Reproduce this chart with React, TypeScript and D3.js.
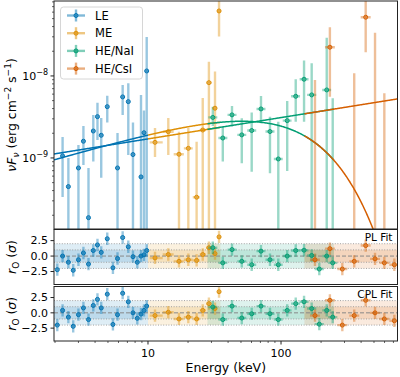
import React from 'react';
import * as d3 from 'd3';

// ---------- data ----------
const COLORS = { LE: '#0173B2', ME: '#DE8F05', NaI: '#029E73', CsI: '#D55E00' };

// LE
const leE = [2.08, 2.28, 2.52, 2.74, 3.0, 3.27, 3.57, 3.88, 4.17, 4.45, 4.94, 5.45, 5.9, 6.45, 7.11, 7.71, 8.31, 8.86, 9.33, 9.78];
const leElo = [2.01, 2.2, 2.43, 2.64, 2.9, 3.16, 3.45, 3.74, 4.02, 4.29, 4.77, 5.26, 5.69, 6.22, 6.86, 7.44, 8.02, 8.55, 9.0, 9.44];
const leEhi = [2.15, 2.36, 2.61, 2.84, 3.1, 3.38, 3.69, 4.02, 4.32, 4.61, 5.11, 5.64, 6.11, 6.68, 7.36, 7.98, 8.6, 9.17, 9.66, 10.0];
const leF = [null, 1.06e-9, 4.47e-10, null, 7.55e-10, 1.6e-9, 1.87e-10, 2.13e-9, 3.19e-9, 1.89e-9, 4.22e-9, null, 7.55e-10, 5.55e-9, 4.86e-9, 1.1e-9, null, 5.87e-10, 2.03e-9, 1.15e-8];
const leFlo = [null, 3.35e-10, 1e-11, null, 1e-11, 8.22e-10, 1e-11, 9.02e-10, 1.66e-9, 5.75e-10, 2.7e-9, null, 1e-11, 3.35e-9, 1.09e-9, 1e-11, null, 1e-11, 1e-11, 1e-11];
const leFhi = [null, 1.8e-9, 1.0e-9, null, 1.44e-9, 2.46e-9, 7.55e-10, 3.35e-9, 4.72e-9, 3.08e-9, 5.75e-9, null, 2.02e-9, 7.76e-9, 8.15e-9, 2.7e-9, null, 5.87e-9, 3.8e-9, 2.99e-8];
const leRPL = [-2.2, 0.0, -1.0, -2.3, -0.6, 0.5, -1.3, 0.9, 1.8, 0.6, 2.8, -1.9, -0.4, 3.0, 1.5, -0.1, -1.0, 0.0, 0.2, 0.9];
const leRCPL = [-2.0, 0.4, -0.7, -2.2, -0.3, 0.8, -1.1, 1.2, 2.2, 0.8, 3.05, -1.9, -0.3, 3.2, 1.8, 0.0, -0.9, -0.2, 0.4, 1.1];

// ME
const meE = [11.29, 14.21, 17.1, 20.1, 23.2, 25.8, 28.7, 31.9, 34.2];
const meElo = [10.3, 12.9, 15.6, 18.6, 21.7, 24.5, 27.3, 30.3, 33.0];
const meEhi = [12.9, 15.6, 18.6, 21.7, 24.5, 27.3, 30.3, 33.0, 35.5];
const meF = [1.55e-9, 2.09e-9, 1.11e-9, 1.31e-9, 3.32e-10, 2.19e-9, 8.28e-9, 4.04e-9, 6.2e-8];
const meFlo = [1.03e-9, 1.09e-9, 1e-11, 1e-11, 1e-11, 1e-11, 1e-11, 1e-11, 3.03e-8];
const meFhi = [2.32e-9, 3.08e-9, 2.09e-9, 2.32e-9, 1.58e-9, 5.39e-9, 1.49e-8, 1.13e-8, 1e-6];
const meRPL = [-0.3, 0.25, -0.85, -0.6, -0.7, 0.25, 1.35, 0.4, 3.1];
const meRCPL = [-0.45, 0.1, -1.0, -0.7, -1.0, 0.4, 1.5, 0.7, 3.45];

// HE/NaI
const naiE = [30.7, 36.5, 42.8, 50.7, 60.2, 70.7, 82.6, 95.4, 111.3, 129, 149, 170, 194, 220.6, 244.7];
const naiElo = [28.4, 33.8, 39.6, 46.9, 55.7, 65.4, 76.4, 88.3, 103, 119, 138, 157, 179, 204, 226];
const naiEhi = [33.2, 39.5, 46.3, 54.8, 65.1, 76.4, 89.3, 103, 120, 139, 161, 184, 210, 238, 265];
const naiF = [3.12e-9, 1.75e-9, 3.35e-9, 1.91e-9, 2.16e-9, 3.96e-9, 2.1e-9, 9.72e-10, 2.85e-9, 5.65e-9, 9.12e-9, 5.87e-9, null, 6.75e-9, null];
const naiFlo = [2.46e-9, 9.02e-10, 2.41e-9, 8.62e-10, 6.81e-10, 2.65e-9, 6.5e-10, 1e-11, 6.94e-10, 2.77e-9, 2.77e-9, 1e-11, null, 1e-11, 1e-11];
const naiFhi = [4.22e-9, 2.41e-9, 4.31e-9, 3.05e-9, 3.57e-9, 5.7e-9, 3.19e-9, 2.77e-9, 4.95e-9, 9.12e-9, 1.54e-8, 1.43e-8, null, 2.93e-8, 5.35e-9];
const naiRPL = [1.35, -1.1, 1.05, -0.85, -1.4, 0.8, -0.6, -1.4, 0.0, 0.9, 0.95, 0.1, -2.1, 0.0, -1.1];
const naiRCPL = [0.95, -1.1, 1.1, -0.85, -0.15, 1.1, -0.15, -1.1, 0.4, 1.5, 1.8, 0.7, -1.85, 0.4, -0.7];

// HE/CsI
const csiE = [180, 233, 289, 355, 433, 509, 598, 711];
const csiElo = [165, 214, 265, 326, 397, 467, 549, 652];
const csiEhi = [196, 254, 315, 387, 472, 555, 652, 775];
const csiF = [null, 2.24e-8, null, null, 5.2e-8, null, null, null];
const csiFlo = [1e-11, 5.59e-9, null, 1e-11, 1.95e-8, 1e-11, 1e-11, null];
const csiFhi = [8.94e-9, 3.93e-8, null, 1.08e-8, 1e-6, 3.37e-8, 6.15e-9, null];
const csiRPL = [-0.6, 1.2, -2.1, -0.85, 1.7, -0.45, -1.1, -1.4];
const csiRCPL = [-0.45, 2.05, -2.0, -0.45, 2.05, 0.0, -1.0, -1.3];

// instrument energy ranges (keV) for model segments & residual bands
const rangeLE = [1.965, 10];
const rangeME = [10, 35];
const rangeNaI = [28, 250];
const rangeCsI = [150, 760];

// fitted model parameters
const PL_NORM = 1.119e-9, PL_E0 = 1.97, PL_SLOPE = 0.26;
const CPL_A = 7.006e-10, CPL_BETA = 0.473, CPL_EC = 107.6;

const X_TICKS_MAJOR = [10, 100];
const Y_TICKS_MAJOR = [1e-9, 1e-8];
const R_TICKS = [2.5, 0, -2.5];

// ---------- layout ----------
const W = 400, H = 377;
const PX0 = 54, PX1 = 397.5;
const MAIN = [1, 229];
const RES1 = [229.5, 284.5];
const RES2 = [286.5, 341];
const FONT = 'DejaVu Sans';

const series = [
  { key: 'LE', label: 'LE', color: COLORS.LE, E: leE, Elo: leElo, Ehi: leEhi, F: leF, Flo: leFlo, Fhi: leFhi, rPL: leRPL, rCPL: leRCPL, range: rangeLE },
  { key: 'ME', label: 'ME', color: COLORS.ME, E: meE, Elo: meElo, Ehi: meEhi, F: meF, Flo: meFlo, Fhi: meFhi, rPL: meRPL, rCPL: meRCPL, range: rangeME },
  { key: 'NaI', label: 'HE/NaI', color: COLORS.NaI, E: naiE, Elo: naiElo, Ehi: naiEhi, F: naiF, Flo: naiFlo, Fhi: naiFhi, rPL: naiRPL, rCPL: naiRCPL, range: rangeNaI },
  { key: 'CsI', label: 'HE/CsI', color: COLORS.CsI, E: csiE, Elo: csiElo, Ehi: csiEhi, F: csiF, Flo: csiFlo, Fhi: csiFhi, rPL: csiRPL, rCPL: csiRCPL, range: rangeCsI },
];

const plModel = (e: number) => PL_NORM * Math.pow(e / PL_E0, PL_SLOPE);
const cplModel = (e: number) => CPL_A * Math.pow(e, CPL_BETA) * Math.exp(-e / CPL_EC);

function logSamples(a: number, b: number, n: number) {
  const la = Math.log10(a), lb = Math.log10(b);
  return d3.range(n + 1).map((i) => Math.pow(10, la + ((lb - la) * i) / n));
}

const EB_OP = 0.4;
const EB_W = 2.4;

export default function App() {
  const x = d3.scaleLog().domain([1.965, 751]).range([PX0, PX1]);
  const y = d3.scaleLog().domain([1.36e-10, 8.2e-8]).range([MAIN[1], MAIN[0]]);
  const r1 = d3.scaleLinear().domain([-4.6, 4.3]).range([RES1[1], RES1[0]]);
  const r2 = d3.scaleLinear().domain([-4.6, 4.3]).range([RES2[1], RES2[0]]);

  const line = d3.line<number>().x((e) => x(e)).y((e) => y(Math.max(e, 1e-20)));

  const modelPath = (f: (e: number) => number, range: number[]) => {
    const pts = logSamples(range[0], range[1], 200).map((e) => [x(e), y(Math.max(f(e), 1e-14))]);
    return d3.line()(pts as [number, number][]) || '';
  };

  const clampY = (v: number) => y(Math.max(v, 1e-12));

  const minorX: number[] = [];
  [1, 10, 100].forEach((d) => {
    for (let k = 2; k <= 9; k++) {
      const v = d * k;
      if (v > 1.965 && v < 751) minorX.push(v);
    }
  });
  const minorY: number[] = [];
  [1e-10, 1e-9, 1e-8].forEach((d) => {
    for (let k = 2; k <= 9; k++) {
      const v = d * k;
      if (v > 1.36e-10 && v < 8.2e-8) minorY.push(v);
    }
  });

  const resPanel = (rs: any, key: 'rPL' | 'rCPL', top: number, bottom: number, label: string, clip: string) => (
    <g>
      <clipPath id={clip}>
        <rect x={PX0} y={top} width={PX1 - PX0} height={bottom - top} />
      </clipPath>
      <g clipPath={`url(#${clip})`}>
        {series.map((s) => (
          <g key={'band' + s.key}>
            <rect x={x(s.range[0])} width={x(Math.min(s.range[1], 751)) - x(s.range[0])} y={rs(2)} height={rs(-2) - rs(2)} fill={s.color} fillOpacity={0.13} />
            <rect x={x(s.range[0])} width={x(Math.min(s.range[1], 751)) - x(s.range[0])} y={rs(1)} height={rs(-1) - rs(1)} fill={s.color} fillOpacity={0.15} />
          </g>
        ))}
        {[2, 1, -1, -2].map((v) => (
          <line key={v} x1={PX0} x2={PX1} y1={rs(v)} y2={rs(v)} stroke="#999" strokeWidth={0.9} strokeDasharray="1,1.6" />
        ))}
        <line x1={PX0} x2={PX1} y1={rs(0)} y2={rs(0)} stroke="#888" strokeWidth={1} strokeDasharray="4,2" />
        {series.map((s) => (
          <g key={'res' + s.key}>
            {s.E.map((e: number, i: number) => {
              const v = s[key][i];
              return (
                <g key={i}>
                  <line x1={x(e)} x2={x(e)} y1={rs(v - 1)} y2={rs(v + 1)} stroke={s.color} strokeOpacity={EB_OP} strokeWidth={EB_W} />
                  <line x1={x(s.Elo[i])} x2={x(s.Ehi[i])} y1={rs(v)} y2={rs(v)} stroke={s.color} strokeOpacity={EB_OP} strokeWidth={EB_W} />
                  <circle cx={x(e)} cy={rs(v)} r={2} fill={s.color} fillOpacity={0.35} stroke={s.color} strokeWidth={1} />
                </g>
              );
            })}
          </g>
        ))}
      </g>
      <rect x={PX0} y={top} width={PX1 - PX0} height={bottom - top} fill="none" stroke="#222" strokeWidth={1} />
      {R_TICKS.map((t) => (
        <g key={t}>
          <line x1={PX0 - 3.5} x2={PX0} y1={rs(t)} y2={rs(t)} stroke="#222" />
          <text x={PX0 - 6} y={rs(t)} dy="0.35em" textAnchor="end" fontSize={11}>
            {t === 0 ? '0.0' : t > 0 ? t.toFixed(1) : '\u2212' + Math.abs(t).toFixed(1)}
          </text>
        </g>
      ))}
      <text x={PX1 - 5} y={top + 11} textAnchor="end" fontSize={10.5}>{label}</text>
      <text transform={`translate(16,${(top + bottom) / 2}) rotate(-90)`} textAnchor="middle" fontSize={12.5}>
        <tspan fontStyle="italic">r</tspan>
        <tspan fontSize={9} dy={3}>O</tspan>
        <tspan dy={-3}> (</tspan>
        <tspan fontStyle="italic">σ</tspan>
        <tspan>)</tspan>
      </text>
    </g>
  );

  return (
    <svg width={W} height={H} style={{ position: 'absolute', left: 0, top: 0, background: '#fff' }} fontFamily={FONT}>
      <rect width={W} height={H} fill="#fff" />
      <clipPath id="mainclip">
        <rect x={PX0} y={MAIN[0]} width={PX1 - PX0} height={MAIN[1] - MAIN[0]} />
      </clipPath>
      <g clipPath="url(#mainclip)">
        {/* error bars */}
        {series.map((s) => (
          <g key={'eb' + s.key}>
            {s.E.map((e: number, i: number) => {
              const f = s.F[i];
              const hi = s.Fhi[i];
              const lo = s.Flo[i];
              return (
                <g key={i}>
                  {hi != null && (
                    <line x1={x(e)} x2={x(e)} y1={clampY(lo == null ? 1e-12 : lo)} y2={clampY(hi)} stroke={s.color} strokeOpacity={EB_OP} strokeWidth={EB_W} />
                  )}
                  {f != null && (
                    <line x1={x(s.Elo[i])} x2={x(s.Ehi[i])} y1={y(f)} y2={y(f)} stroke={s.color} strokeOpacity={EB_OP} strokeWidth={EB_W} />
                  )}
                </g>
              );
            })}
          </g>
        ))}
        {/* models */}
        {series.map((s) => (
          <path key={'pl' + s.key} d={modelPath(plModel, s.range)} fill="none" stroke={s.color} strokeWidth={1.5} />
        ))}
        {series.map((s) => (
          <path key={'cpl' + s.key} d={modelPath(cplModel, s.range)} fill="none" stroke={s.color} strokeWidth={1.5} />
        ))}
        {/* markers */}
        {series.map((s) => (
          <g key={'mk' + s.key}>
            {s.E.map((e: number, i: number) =>
              s.F[i] != null ? (
                <circle key={i} cx={x(e)} cy={y(s.F[i] as number)} r={2} fill={s.color} fillOpacity={0.35} stroke={s.color} strokeWidth={1} />
              ) : null
            )}
          </g>
        ))}
      </g>
      <rect x={PX0} y={MAIN[0]} width={PX1 - PX0} height={MAIN[1] - MAIN[0]} fill="none" stroke="#222" strokeWidth={1} />
      {/* main y ticks */}
      {minorY.map((v) => (
        <line key={v} x1={PX0 - 2} x2={PX0} y1={y(v)} y2={y(v)} stroke="#222" strokeWidth={0.7} />
      ))}
      {Y_TICKS_MAJOR.map((v) => (
        <g key={v}>
          <line x1={PX0 - 3.5} x2={PX0} y1={y(v)} y2={y(v)} stroke="#222" />
          <text x={PX0 - 6} y={y(v) + 4} textAnchor="end" fontSize={11}>
            10<tspan fontSize={8} dy={-5}>{'\u2212' + Math.round(-Math.log10(v))}</tspan>
          </text>
        </g>
      ))}
      {/* main y label */}
      <text transform={`translate(16,${(MAIN[0] + MAIN[1]) / 2}) rotate(-90)`} textAnchor="middle" fontSize={12.5}>
        <tspan fontStyle="italic">νF</tspan>
        <tspan fontStyle="italic" fontSize={9} dy={3}>ν</tspan>
        <tspan dy={-3}> (erg cm</tspan>
        <tspan fontSize={9} dy={-5}>−2</tspan>
        <tspan dy={5}> s</tspan>
        <tspan fontSize={9} dy={-5}>−1</tspan>
        <tspan dy={5}>)</tspan>
      </text>

      {/* legend */}
      <g>
        <rect x={60.5} y={7} width={82} height={72} rx={3} fill="#fff" fillOpacity={0.85} stroke="#ccc" strokeWidth={0.8} />
        {series.map((s, i) => {
          const cy = 15.5 + i * 17.7;
          return (
            <g key={'lg' + s.key}>
              <line x1={67} x2={85} y1={cy} y2={cy} stroke={s.color} strokeOpacity={EB_OP + 0.1} strokeWidth={EB_W} />
              <line x1={76} x2={76} y1={cy - 6} y2={cy + 6} stroke={s.color} strokeOpacity={EB_OP + 0.1} strokeWidth={EB_W} />
              <circle cx={76} cy={cy} r={2} fill={s.color} fillOpacity={0.35} stroke={s.color} strokeWidth={1} />
              <text x={95} y={cy + 4} fontSize={11.5}>{s.label}</text>
            </g>
          );
        })}
      </g>

      {resPanel(r1, 'rPL', RES1[0], RES1[1], 'PL Fit', 'res1clip')}
      {resPanel(r2, 'rCPL', RES2[0], RES2[1], 'CPL Fit', 'res2clip')}

      {/* x axis */}
      {minorX.map((v) => (
        <line key={v} x1={x(v)} x2={x(v)} y1={RES2[1]} y2={RES2[1] + 2} stroke="#222" strokeWidth={0.7} />
      ))}
      {X_TICKS_MAJOR.map((v) => (
        <g key={v}>
          <line x1={x(v)} x2={x(v)} y1={RES2[1]} y2={RES2[1] + 3.5} stroke="#222" />
          <text x={x(v)} y={RES2[1] + 16} textAnchor="middle" fontSize={11}>{v}</text>
        </g>
      ))}
      <text x={(PX0 + PX1) / 2} y={372} textAnchor="middle" fontSize={12.5}>Energy (keV)</text>
    </svg>
  );
}
